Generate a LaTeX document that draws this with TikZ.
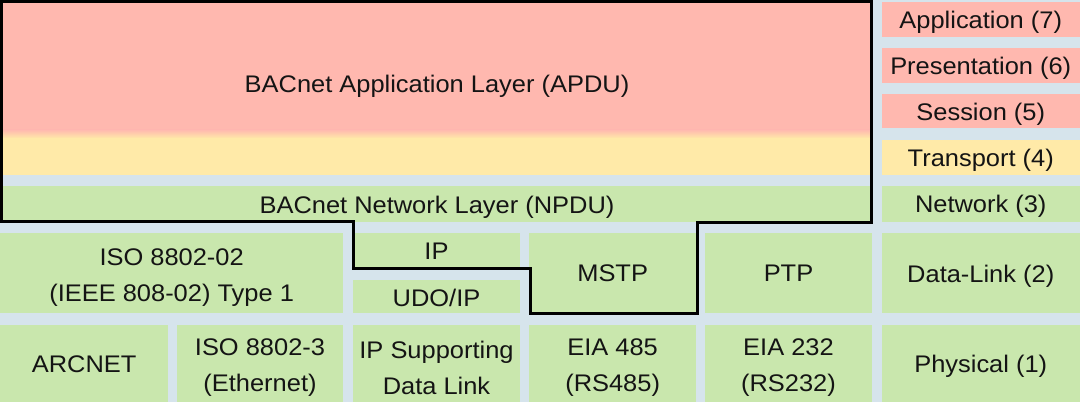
\documentclass[tikz,border=0pt]{standalone}
\usepackage{fontspec}
\setmainfont[FakeStretch=1.06]{Liberation Sans}
\definecolor{bgc}{RGB}{214,228,236}
\definecolor{pinkc}{RGB}{255,184,175}
\definecolor{yelc}{RGB}{255,234,168}
\definecolor{grnc}{RGB}{201,231,173}
\definecolor{txtc}{RGB}{20,20,20}
\begin{document}
\begin{tikzpicture}[x=1pt,y=-1pt,
  lbl/.style={text=txtc,font=\fontsize{24}{36}\selectfont,align=center,inner sep=0pt},
  greenbox/.style={fill=grnc,draw=none},
  pinkbox/.style={fill=pinkc,draw=none},
  yelbox/.style={fill=yelc,draw=none},
  outline/.style={draw=black,line width=3pt,line join=miter}]
\fill[bgc] (0,0) rectangle (1080,402);
\useasboundingbox (0,0) rectangle (1080,402);
% big application block with gradient
\fill[pinkc] (0,0) rectangle (872,130);
\shade[top color=pinkc,bottom color=yelc] (0,129.5) rectangle (872,138.5);
\fill[yelc] (0,138) rectangle (872,175);
\node[lbl,yshift=-2.5pt] (apdu) at (437,84) {BACnet Application Layer (APDU)};
% network layer
\fill[grnc] (0,186) rectangle (872,221.5);
\node[lbl,yshift=-3pt] (npdu) at (437,204) {BACnet Network Layer (NPDU)};
% right column
\path[pinkbox] (881.5,2) rectangle (1080,36.7) node[lbl,midway,yshift=-3pt] (l7) {Application (7)};
\path[pinkbox] (881.5,48.3) rectangle (1080,82.7) node[lbl,midway,yshift=-3pt] (l6) {Presentation (6)};
\path[pinkbox] (881.5,94.3) rectangle (1080,128.3) node[lbl,midway,yshift=-3pt] (l5) {Session (5)};
\path[yelbox] (881.5,140) rectangle (1080,175) node[lbl,midway,yshift=-3pt] (l4) {Transport (4)};
\path[greenbox] (881.5,186) rectangle (1080,221.5) node[lbl,midway,yshift=-3pt] (l3) {Network (3)};
\path[greenbox] (881.5,233.3) rectangle (1080,313.3) node[lbl,midway,yshift=-3pt] (l2) {Data-Link (2)};
\path[greenbox] (881.5,325) rectangle (1080,402) node[lbl,midway,yshift=-3pt] (l1) {Physical (1)};
% data link row
\path[greenbox] (0,233.3) rectangle (343.3,313.3) node[lbl,midway,yshift=-4.5pt] (iso02) {ISO 8802-02\\(IEEE 808-02) Type 1};
\path[greenbox] (353,233.3) rectangle (520,268) node[lbl,midway,yshift=-1pt] (ip) {IP};
\path[greenbox] (353,280) rectangle (520,313.3) node[lbl,midway,yshift=-1.5pt] (udo) {UDO/IP};
\path[greenbox] (529.3,233.3) rectangle (696,313.3) node[lbl,midway] (mstp) {MSTP};
\path[greenbox] (705,233.3) rectangle (872,313.3) node[lbl,midway] (ptp) {PTP};
% physical row
\path[greenbox] (0,325) rectangle (168.3,402) node[lbl,midway,yshift=-1pt] (arc) {ARCNET};
\path[greenbox] (176.7,325) rectangle (343.3,402) node[lbl,midway,yshift=-4.25pt] (eth) {ISO 8802-3\\(Ethernet)};
\path[greenbox] (353,325) rectangle (520,402) node[lbl,midway,yshift=-4.25pt] (ipsdl) {IP Supporting\\Data Link};
\path[greenbox] (529.3,325) rectangle (696,402) node[lbl,midway,yshift=-4.25pt] (eia485) {EIA 485\\(RS485)};
\path[greenbox] (705,325) rectangle (872,402) node[lbl,midway,yshift=-4.25pt] (eia232) {EIA 232\\(RS232)};
% BACnet outline
\draw[outline] (1.4,1.4) -- (871.8,1.4) -- (871.8,222.8) -- (697.6,222.8) -- (697.6,313.6)
  -- (530.6,313.6) -- (530.6,268.8) -- (353.6,268.8) -- (353.6,221.4) -- (1.4,221.4) -- cycle;
\end{tikzpicture}
\end{document}
